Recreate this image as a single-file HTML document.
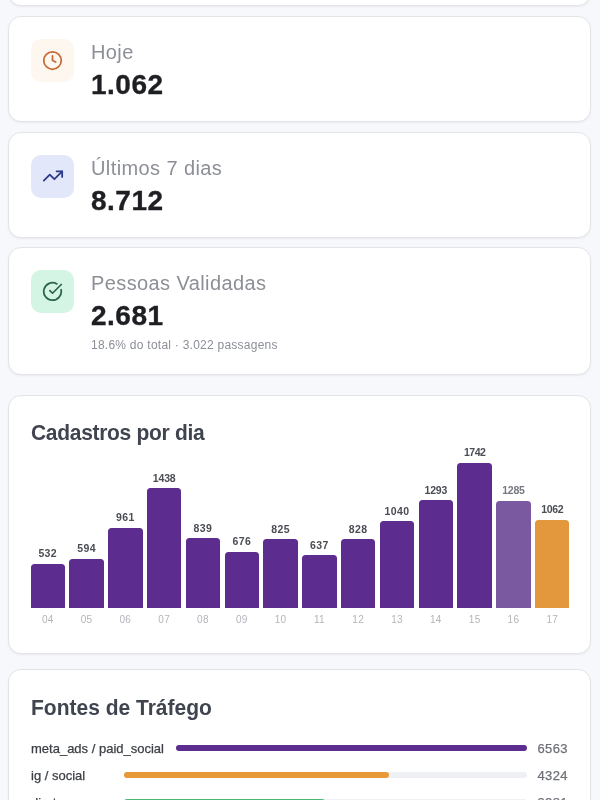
<!DOCTYPE html>
<html lang="pt-BR">
<head>
<meta charset="utf-8">
<title>Dashboard</title>
<style>
*{box-sizing:border-box;margin:0;padding:0}
html,body{width:600px;height:800px;overflow:hidden}
body{filter:blur(.3px);background:#f7f8fb;font-family:"Liberation Sans",sans-serif;position:relative;color:#1f2023}
.card{position:absolute;left:8px;width:583px;background:#fff;border:1px solid #e3e4e7;border-radius:13px;box-shadow:0 1px 2px rgba(0,0,0,.06)}
.ib{position:absolute;left:22px;top:21.5px;width:43px;height:43px;border-radius:10px;display:flex;align-items:center;justify-content:center}
.ib svg{width:21px;height:21px;fill:none;stroke-width:2;stroke-linecap:round;stroke-linejoin:round}
.lab{position:absolute;left:82px;top:25px;font-size:20px;line-height:20px;color:#8c8f96;white-space:nowrap;letter-spacing:.4px}
.val{position:absolute;left:82px;top:53.5px;font-size:28px;line-height:28px;font-weight:bold;color:#1e1f23;white-space:nowrap;letter-spacing:.5px;-webkit-text-stroke:.35px #1e1f23}
.sub{position:absolute;left:82px;top:90px;font-size:12px;line-height:12px;color:#8b8f97;white-space:nowrap;letter-spacing:.25px}
.title{position:absolute;left:22px;font-size:21px;line-height:20px;font-weight:bold;color:#40444f;white-space:nowrap;transform:scaleY(1.06);transform-origin:0 17px}
.bar{position:absolute;width:34.4px;border-radius:3.5px 3.5px 0 0;background:#5c2d8e}
.bl{position:absolute;width:60px;margin-left:-30px;text-align:center;font-size:10.5px;line-height:10px;font-weight:bold;color:#4a4d54;letter-spacing:.4px;margin-top:.8px}
.xl{position:absolute;width:40px;margin-left:-20px;text-align:center;font-size:10px;line-height:10px;color:#b3b5ba;letter-spacing:.3px;margin-top:.5px}
.row{position:absolute;left:22px;right:22px;height:20px}
.rl{position:absolute;left:22px;font-size:13px;line-height:13px;color:#3d4047;white-space:nowrap;-webkit-text-stroke:.25px #3d4047}
.tr{position:absolute;height:6px;border-radius:3px;background:#eef0f3}
.fl{position:absolute;left:0;top:0;height:6px;border-radius:3px}
.rv{position:absolute;right:22px;font-size:13px;line-height:13px;color:#6d7077;letter-spacing:.4px;-webkit-text-stroke:.25px #6d7077}
</style>
</head>
<body>

<div class="card" style="top:-94px;height:100px"></div>

<div class="card" style="top:16px;height:106px">
  <div class="ib" style="background:#fef7ef">
    <svg viewBox="0 0 24 24" style="stroke:#c46b38"><circle cx="12" cy="12" r="10"/><polyline points="12 6.8 12 12 15.6 13.8"/></svg>
  </div>
  <div class="lab">Hoje</div>
  <div class="val">1.062</div>
</div>

<div class="card" style="top:132px;height:105.5px">
  <div class="ib" style="background:#e2e8fa">
    <svg viewBox="0 0 24 24" style="stroke:#2e3b8b;width:22px;height:22px;margin-top:-.8px"><polyline points="22 7 13.5 15.5 8.5 10.5 2 17"/><polyline points="16 7 22 7 22 13"/></svg>
  </div>
  <div class="lab" style="top:24.5px">Últimos 7 dias</div>
  <div class="val">8.712</div>
</div>

<div class="card" style="top:247px;height:128px">
  <div class="ib" style="top:22px;background:#d4f5e4">
    <svg viewBox="0 0 24 24" style="stroke:#2c6449"><path d="M21.801 10A10 10 0 1 1 17 3.335"/><path d="m9 11 3 3L22 4"/></svg>
  </div>
  <div class="lab" style="top:24.5px">Pessoas Validadas</div>
  <div class="val" style="top:54px">2.681</div>
  <div class="sub" style="top:90.5px">18.6% do total · 3.022 passagens</div>
</div>

<div class="card" style="top:395px;height:259px">
  <div class="title" style="top:27.30px;letter-spacing:-.3px">Cadastros por dia</div>
<div class="bar" style="left:21.55px;top:167.76px;height:44.44px;background:#5c2d8e"></div>
<div class="bl" style="left:38.75px;top:151.49px">532</div>
<div class="xl" style="left:38.75px;top:218.50px">04</div>
<div class="bar" style="left:60.36px;top:162.59px;height:49.61px;background:#5c2d8e"></div>
<div class="bl" style="left:77.56px;top:146.32px">594</div>
<div class="xl" style="left:77.56px;top:218.50px">05</div>
<div class="bar" style="left:99.17px;top:131.93px;height:80.27px;background:#5c2d8e"></div>
<div class="bl" style="left:116.37px;top:115.66px">961</div>
<div class="xl" style="left:116.37px;top:218.50px">06</div>
<div class="bar" style="left:137.98px;top:92.09px;height:120.11px;background:#5c2d8e"></div>
<div class="bl" style="left:155.18px;top:75.82px;letter-spacing:-0.15px">1438</div>
<div class="xl" style="left:155.18px;top:218.50px">07</div>
<div class="bar" style="left:176.79px;top:142.12px;height:70.08px;background:#5c2d8e"></div>
<div class="bl" style="left:193.99px;top:125.85px">839</div>
<div class="xl" style="left:193.99px;top:218.50px">08</div>
<div class="bar" style="left:215.60px;top:155.74px;height:56.46px;background:#5c2d8e"></div>
<div class="bl" style="left:232.80px;top:139.47px">676</div>
<div class="xl" style="left:232.80px;top:218.50px">09</div>
<div class="bar" style="left:254.41px;top:143.29px;height:68.91px;background:#5c2d8e"></div>
<div class="bl" style="left:271.61px;top:127.02px">825</div>
<div class="xl" style="left:271.61px;top:218.50px">10</div>
<div class="bar" style="left:293.22px;top:158.99px;height:53.21px;background:#5c2d8e"></div>
<div class="bl" style="left:310.42px;top:142.72px">637</div>
<div class="xl" style="left:310.42px;top:218.50px">11</div>
<div class="bar" style="left:332.03px;top:143.04px;height:69.16px;background:#5c2d8e"></div>
<div class="bl" style="left:349.23px;top:126.77px">828</div>
<div class="xl" style="left:349.23px;top:218.50px">12</div>
<div class="bar" style="left:370.84px;top:125.33px;height:86.87px;background:#5c2d8e"></div>
<div class="bl" style="left:388.04px;top:109.06px">1040</div>
<div class="xl" style="left:388.04px;top:218.50px">13</div>
<div class="bar" style="left:409.65px;top:104.20px;height:108.00px;background:#5c2d8e"></div>
<div class="bl" style="left:426.85px;top:87.93px;letter-spacing:-0.15px">1293</div>
<div class="xl" style="left:426.85px;top:218.50px">14</div>
<div class="bar" style="left:448.46px;top:66.70px;height:145.50px;background:#5c2d8e"></div>
<div class="bl" style="left:465.66px;top:50.43px;letter-spacing:-0.55px">1742</div>
<div class="xl" style="left:465.66px;top:218.50px">15</div>
<div class="bar" style="left:487.27px;top:104.87px;height:107.33px;background:#7b59a1"></div>
<div class="bl" style="left:504.47px;top:88.60px;color:#75787f;letter-spacing:-0.25px">1285</div>
<div class="xl" style="left:504.47px;top:218.50px">16</div>
<div class="bar" style="left:526.08px;top:123.50px;height:88.70px;background:#e4983d"></div>
<div class="bl" style="left:543.28px;top:107.23px;letter-spacing:-0.35px">1062</div>
<div class="xl" style="left:543.28px;top:218.50px">17</div>

</div>

<div class="card" style="top:669px;height:200px">
  <div class="title" style="top:28.3px">Fontes de Tráfego</div>
  <div class="rl" style="top:71.6px">meta_ads / paid_social</div>
  <div class="tr" style="left:166.7px;width:351px;top:74.9px"><div class="fl" style="width:100%;background:#5b2d8f"></div></div>
  <div class="rv" style="top:72px">6563</div>
  <div class="rl" style="top:98.9px">ig / social</div>
  <div class="tr" style="left:115.2px;width:402.5px;top:101.9px"><div class="fl" style="width:65.9%;background:#e89a3a"></div></div>
  <div class="rv" style="top:98.9px">4324</div>
  <div class="rl" style="top:126.2px">direto</div>
  <div class="tr" style="left:115.2px;width:402.5px;top:128.6px"><div class="fl" style="width:50%;background:#4fb876"></div></div>
  <div class="rv" style="top:125.6px">3281</div>
</div>

</body>
</html>
